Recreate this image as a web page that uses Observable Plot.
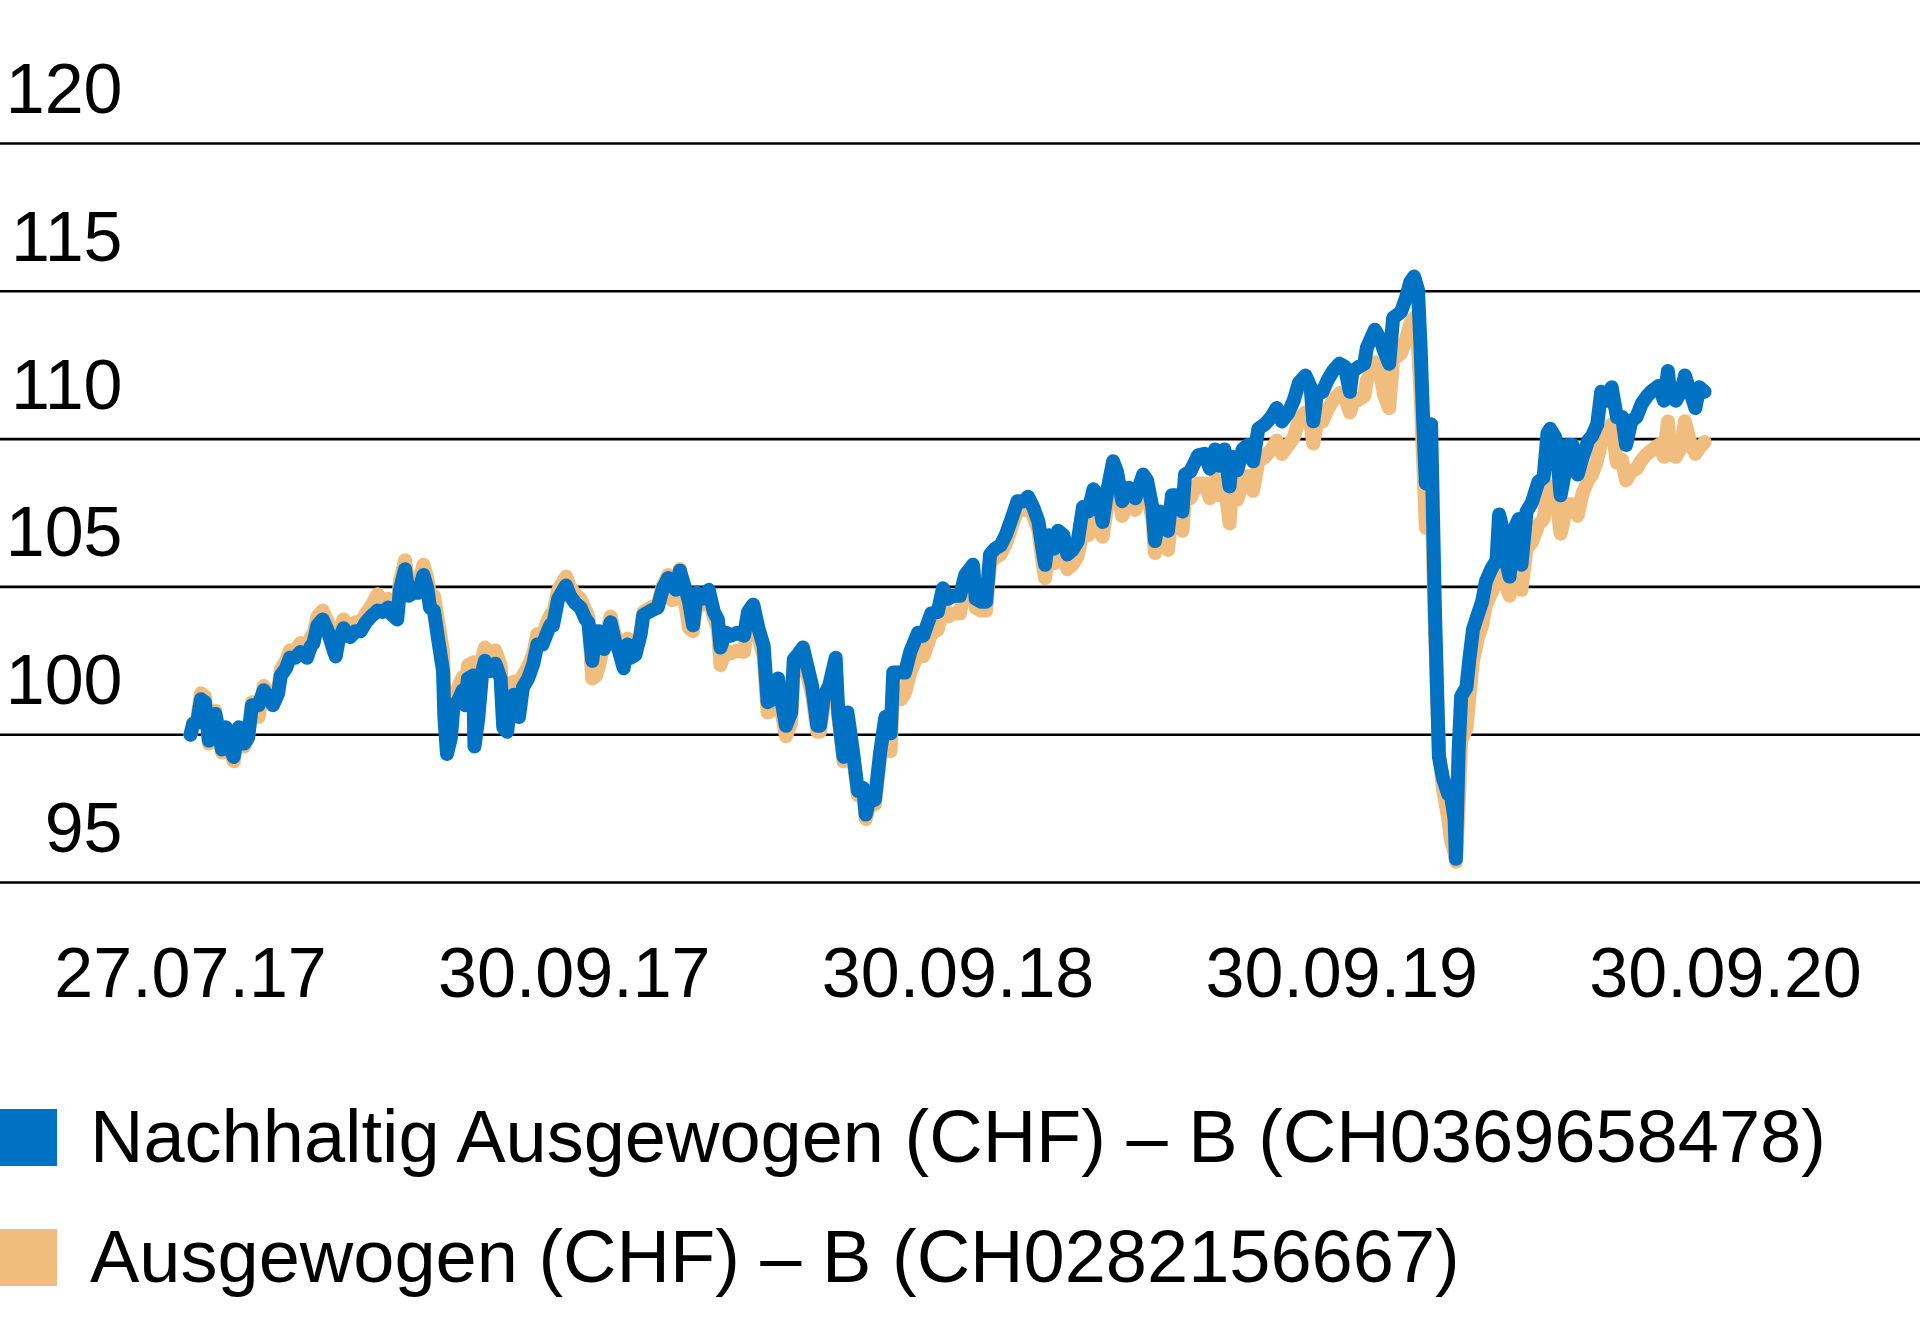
<!DOCTYPE html>
<html>
<head>
<meta charset="utf-8">
<script src="https://cdn.jsdelivr.net/npm/d3@7"></script>
<script src="https://cdn.jsdelivr.net/npm/@observablehq/plot@0.6"></script>
<style>
  html, body { margin: 0; padding: 0; background: #fff; }
  #chart { width: 1920px; height: 1040px; }
  .legend { font-family: "Liberation Sans", Arial, sans-serif; font-size: 74px; color: #000; padding-top: 37px; }
  .row { display: flex; align-items: center; height: 120px; }
  .sw { width: 57px; height: 57px; margin-right: 33px; flex: none; }
  .row span { line-height: 1; white-space: nowrap; }
</style>
</head>
<body>
<div id="chart"></div>
<div class="legend" id="legend"></div>
<script>
// ---- data ----
const startDate = "2017-07-27";      // launch (first label)
const axisEndDate = "2020-10-12";    // end of the labelled axis span
const yTicks = [95, 100, 105, 110, 115, 120];
const xTickLabels = ["27.07.17", "30.09.17", "30.09.18", "30.09.19", "30.09.20"];
const seriesNames = [
  "Nachhaltig Ausgewogen (CHF) \u2013 B (CH0369658478)",
  "Ausgewogen (CHF) \u2013 B (CH0282156667)"
];
const seriesColors = ["#0072c3", "#f0bd7f"];

// days since 27.07.17
const dayOffsets = [
  0,2,5,8,11,14,17,19,21,24,
  27,29,33,37,41,44,47,52,56,60,
  63,67,69,73,76,80,84,89,92,94,
  97,101,105,109,111,113,117,122,126,130,
  134,138,143,147,151,154,158,160,164,167,
  170,174,178,181,183,186,189,193,194,196,
  199,201,204,208,210,212,216,217,220,223,
  225,229,233,237,239,242,245,247,251,254,
  258,262,265,269,273,275,277,281,287,290,
  294,298,302,304,307,310,312,316,319,321,
  325,327,331,334,336,340,344,346,352,357,
  361,365,368,371,374,378,381,
  384,387,391,396,400,403,405,409,413,418,
  423,426,430,434,438,441,445,449,451,455,
  459,461,464,468,472,475,479,481,484,488,
  493,495,499,502,506,510,514,516,520,523,
  527,531,535,537,543,546,550,556,560,566,
  571,575,579,583,588,592,598,600,604,608,
  611,615,619,623,627,632,637,640,644,648,
  651,653,656,660,663,667,670,674,678,682,
  686,690,693,697,701,705,708,712,717,722,
  728,731,735,737,741,747,750,754,758,760,
  764,
  770,775,779,783,786,790,794,796,800,804,
  808,812,816,821,826,830,834,839,843,847,
  852,856,858,861,865,869,873,878,882,886,
  888,893,897,899,905,909,912,916,919,925,
  929,932,935,938,940,942,944,948,949,951,
  954,957,961,963,966,967,969,971,975,977,
  980,984,987,990,994,998,1000,1003,1006,1008,
  1011,1015,1017,1021,1025,1030,1034,1037,1039,1043,
  1047,1050,1052,1056,1060,1064,1068,1071,1075,1078,
  1082,1086,1090,1094,1097,1101,1105,1109,1113,1116,
  1122,1126,1129,1131,1135,1139,1142,1146,1150,1153,
  1157
];

// Nachhaltig Ausgewogen (CHF) - B
const nachhaltig = [
  100.0,100.36,100.4,101.2,101.1,99.8,100.1,100.7,100.25,99.5,
  100.25,99.7,99.25,100.25,99.7,99.9,101.0,101.0,101.5,101.25,
  101.0,101.4,102.0,102.25,102.6,102.6,102.8,102.6,103.0,103.1,
  103.7,103.9,103.5,102.9,102.65,103.15,103.6,103.3,103.5,103.5,
  103.8,104.0,104.2,104.15,104.3,104.05,103.9,104.9,105.6,104.7,
  104.8,104.8,105.4,104.95,104.3,104.2,103.3,102.15,100.6,99.35,
  99.9,101.0,101.1,101.5,101.0,101.9,102.0,99.6,100.6,102.15,
  102.5,102.15,102.4,101.9,100.25,100.1,101.25,101.35,100.6,101.6,
  101.9,102.4,103.05,103.05,103.5,103.7,103.7,104.6,105.05,104.7,
  104.45,104.3,103.9,103.8,102.5,103.5,103.5,102.9,103.4,103.8,
  103.05,102.9,102.25,103.05,102.6,102.7,103.4,104.05,104.2,104.3,
  104.95,105.3,105.05,104.9,105.55,104.95,104.5,
  103.7,104.8,104.6,104.9,104.15,103.9,102.95,103.45,103.35,103.45,
  103.35,104.15,104.4,103.6,103.0,101.1,101.2,101.9,101.3,100.3,
  100.75,102.55,102.7,102.95,102.2,101.65,100.3,100.3,101.3,101.65,
  102.6,100.75,99.25,100.75,99.5,98.1,98.2,97.3,98.0,97.8,
  99.4,100.6,100.05,102.1,102.1,102.1,102.8,103.45,103.35,104.1,
  104.15,104.95,104.6,104.7,104.7,105.4,105.75,104.6,104.5,104.5,
  106.1,106.3,106.4,106.75,107.25,107.9,107.9,108.05,107.7,107.2,
  106.3,105.75,106.75,106.3,106.9,106.75,106.1,106.25,106.55,107.7,
  107.55,108.3,108.1,107.2,108.35,109.25,108.9,107.9,108.35,108.0,
  108.8,108.6,107.7,106.55,107.55,106.9,108.1,108.1,107.55,108.8,
  108.9,
  109.45,109.5,109.0,109.65,109.1,109.65,108.4,109.4,108.95,109.65,
  109.8,109.25,110.35,110.5,110.75,111.05,110.6,110.9,111.3,111.9,
  112.15,111.75,110.6,111.6,111.6,112.0,112.3,112.55,112.45,111.6,
  112.3,112.45,112.55,113.1,113.7,113.4,113.0,112.55,114.1,114.3,
  114.8,115.3,115.5,115.05,113.1,110.6,108.5,110.5,108.4,104.1,
  99.25,98.55,98.0,98.0,97.15,95.8,99.4,101.3,101.6,102.45,
  103.55,104.1,104.5,105.2,105.6,105.9,107.45,106.9,105.75,105.35,
  106.9,107.3,105.75,107.55,107.85,108.55,108.7,110.2,110.35,110.05,
  108.1,108.8,109.8,109.8,108.8,109.4,109.95,110.1,110.5,111.6,
  111.3,111.75,110.75,110.75,109.8,110.6,110.75,111.2,111.45,111.6,
  111.8,111.3,112.3,111.45,111.3,111.6,112.15,111.6,111.05,111.75,
  111.6
];

// Ausgewogen (CHF) - B
const ausgewogen = [
  100.0,100.4,100.5,101.4,101.3,99.7,100.1,100.8,100.2,99.4,
  100.2,99.6,99.1,100.2,99.6,99.9,101.1,100.6,101.65,101.4,
  101.15,101.55,102.2,102.5,102.85,102.85,103.1,102.9,103.3,103.4,
  104.0,104.2,103.8,103.2,102.9,103.45,103.9,103.6,103.8,103.8,
  104.1,104.35,104.75,104.5,104.6,104.35,104.2,105.2,105.9,105.0,
  105.1,105.1,105.75,105.3,104.7,104.7,103.9,102.8,101.2,99.9,
  100.4,101.4,101.55,101.95,101.45,102.35,102.45,100.0,101.0,102.6,
  102.95,102.6,102.85,102.35,100.7,100.5,101.7,101.8,101.05,102.0,
  102.3,102.75,103.4,103.4,103.85,104.05,104.05,104.9,105.35,105.0,
  104.75,104.6,104.2,104.0,101.9,102.0,102.3,103.1,103.6,104.0,
  103.25,103.1,102.45,103.25,102.8,102.9,103.5,104.15,104.3,104.4,
  105.05,105.4,104.55,104.6,105.6,104.45,103.6,
  103.5,104.6,104.4,104.7,103.95,103.6,102.35,102.85,102.75,102.85,
  102.8,103.85,104.1,103.3,102.65,100.75,100.85,101.55,100.95,99.95,
  100.4,102.25,102.4,102.65,101.9,101.35,100.1,100.1,101.0,101.35,
  102.3,100.6,99.1,100.6,99.35,97.95,98.05,97.15,97.85,97.65,
  99.2,100.0,99.45,101.5,101.2,101.4,102.1,102.75,102.65,103.4,
  103.55,104.35,104.0,104.1,104.1,105.1,105.45,104.3,104.2,104.2,
  105.8,106.0,106.1,106.45,106.95,107.6,107.6,107.75,107.4,106.9,
  105.85,105.3,106.3,105.8,106.4,106.25,105.6,105.75,106.05,106.9,
  106.75,107.5,107.0,106.7,107.85,108.75,108.4,107.4,107.85,107.6,
  108.4,108.2,107.3,106.15,107.15,106.25,107.45,107.45,106.9,108.15,
  108.0,
  108.5,108.5,108.0,108.65,108.1,108.6,107.15,108.3,107.95,108.6,
  108.75,108.25,109.25,109.4,109.65,109.95,109.5,109.8,110.05,110.65,
  110.9,110.5,109.85,110.6,110.6,111.0,111.3,111.55,111.45,110.9,
  111.2,111.35,111.45,112.0,112.6,112.3,111.5,111.05,112.7,112.9,
  113.4,113.9,114.1,113.15,111.5,109.2,107.0,108.0,107.0,103.5,
  99.5,98.2,97.2,96.5,96.0,95.7,97.5,99.8,100.2,101.15,
  102.5,103.3,103.7,104.4,104.8,105.1,105.9,105.7,104.95,104.7,
  105.3,105.8,104.9,106.3,106.5,107.1,107.3,108.2,108.4,108.2,
  106.8,107.4,107.8,107.8,107.4,108.2,108.6,108.8,109.3,109.9,
  110.1,110.5,109.2,109.3,108.6,108.9,109.0,109.3,109.5,109.6,
  109.8,109.4,110.6,109.5,109.4,109.7,110.6,109.9,109.5,109.7,
  109.9
];

// ---- build ----
const parse = d3.utcParse("%Y-%m-%d");
const t0 = parse(startDate);
const t1 = parse(axisEndDate);
const n = Math.min(dayOffsets.length, nachhaltig.length, ausgewogen.length);
const rowsN = d3.range(n).map(i => ({date: d3.utcDay.offset(t0, dayOffsets[i]), value: nachhaltig[i]}));
const rowsA = d3.range(n).map(i => ({date: d3.utcDay.offset(t0, dayOffsets[i]), value: ausgewogen[i]}));

const tickDates = xTickLabels.map((_, i) => new Date(+t0 + i * (t1 - t0) / (xTickLabels.length - 1)));
const labelOf = new Map(tickDates.map((d, i) => [+d, xTickLabels[i]]));

const ML = 190, MR = 195;
const LINE_W = 14;
const chart = Plot.plot({
  width: 1920,
  height: 1040,
  marginLeft: ML,
  marginRight: MR,
  marginTop: 143,
  marginBottom: 158,
  style: {fontFamily: '"Liberation Sans", Arial, sans-serif', fontSize: "70px", color: "#000", background: "#fff"},
  x: {type: "utc", domain: [t0, t1], label: null},
  y: {domain: [95, 120], label: null},
  marks: [
    Plot.ruleY(yTicks, {stroke: "#000", strokeWidth: 2.6, insetLeft: -ML, insetRight: -MR}),
    Plot.line(rowsA, {x: "date", y: "value", stroke: seriesColors[1], strokeWidth: LINE_W, strokeLinejoin: "round", strokeLinecap: "round"}),
    Plot.line(rowsN, {x: "date", y: "value", stroke: seriesColors[0], strokeWidth: LINE_W, strokeLinejoin: "round", strokeLinecap: "round"}),
    Plot.axisY({ticks: yTicks, tickSize: 0, tickPadding: 68, dy: -53, tickFormat: d => String(d), fontSize: 70, label: null}),
    Plot.axisX({ticks: tickDates, tickSize: 0, tickPadding: 65, tickFormat: d => labelOf.get(+d), fontSize: 70, label: null})
  ]
});
document.getElementById("chart").appendChild(chart);

const legend = document.getElementById("legend");
seriesNames.forEach((name, i) => {
  const row = document.createElement("div");
  row.className = "row";
  const sw = document.createElement("div");
  sw.className = "sw";
  sw.style.background = seriesColors[i];
  const span = document.createElement("span");
  span.textContent = name;
  row.appendChild(sw);
  row.appendChild(span);
  legend.appendChild(row);
});
</script>
</body>
</html>
